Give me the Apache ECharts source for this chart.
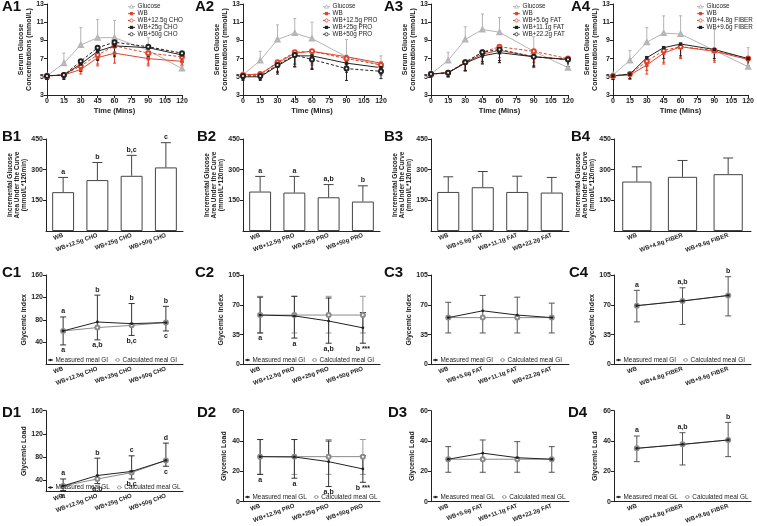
<!DOCTYPE html>
<html><head><meta charset="utf-8">
<script src="https://cdn.jsdelivr.net/npm/echarts@6/dist/echarts.min.js"></script>
<style>html,body{margin:0;padding:0;background:#fff}#c{width:757px;height:526px}</style>
</head><body><div id="c"></div>
<script>
// ---------------- DATA ----------------
const timePoints = [0, 15, 30, 45, 60, 90, 120];
const timeTicks = [0, 15, 30, 45, 60, 75, 90, 105, 120];
const glucoseTicks = [3, 5, 7, 9, 11, 13];
const aucTicks = [150, 300, 450];
const gi1Ticks = [40, 80, 120, 160];
const giTicks = [0, 35, 70, 105];
const gl1Ticks = [40, 80, 120, 160];
const glTicks = [0, 20, 40, 60];

const catCHO = ['WB', 'WB+12.5g CHO', 'WB+25g CHO', 'WB+50g CHO'];
const catPRO = ['WB', 'WB+12.5g PRO', 'WB+25g PRO', 'WB+50g PRO'];
const catFAT = ['WB', 'WB+5.6g FAT', 'WB+11.1g FAT', 'WB+22.2g FAT'];
const catFIB = ['WB', 'WB+4.8g FIBER', 'WB+9.6g FIBER'];

// A1 (CHO)
const a1Glucose = [5.1, 6.5, 8.5, 9.3, 9.3, 7.9, 5.9];
const a1GlucoseErr = [0.2, 1.1, 1.9, 2.0, 1.9, 1.4, 1.0];
const a1WB = [5.1, 5.2, 5.8, 7.1, 7.6, 7.0, 6.7];
const a1WBErr = [0.4, 0.3, 0.5, 0.9, 1.1, 0.8, 0.5];
const a1Cho12 = [5.1, 5.2, 6.2, 7.4, 8.4, 7.6, 7.2];
const a1Cho12Err = [0.4, 0.3, 0.6, 1.0, 1.1, 1.2, 0.9];
const a1Cho25 = [5.1, 5.2, 6.4, 7.8, 8.4, 8.2, 7.4];
const a1Cho25Err = [0.4, 0.5, 0.8, 1.0, 1.2, 1.0, 0.8];
const a1Cho50 = [5.1, 5.2, 6.7, 8.2, 8.8, 8.3, 7.6];
const a1Cho50Err = [0.4, 0.4, 0.9, 1.3, 1.4, 1.1, 0.9];
// A2 (PRO)
const a2Glucose = [5.2, 6.8, 9.1, 9.8, 9.2, 7.2, 6.3];
const a2GlucoseErr = [0.2, 1.0, 1.6, 1.6, 1.8, 1.9, 1.0];
const a2WB = [5.2, 5.3, 6.5, 7.6, 7.8, 7.2, 6.5];
const a2WBErr = [0.4, 0.4, 0.9, 1.2, 1.3, 1.0, 0.7];
const a2Pro12 = [5.2, 5.3, 6.6, 7.7, 7.8, 7.0, 6.3];
const a2Pro12Err = [0.4, 0.4, 1.0, 1.3, 1.5, 1.1, 0.8];
const a2Pro25 = [5.0, 5.0, 6.2, 7.3, 7.3, 6.5, 6.0];
const a2Pro25Err = [0.4, 0.4, 0.9, 1.2, 1.4, 1.0, 0.8];
const a2Pro50 = [5.1, 5.1, 6.3, 7.4, 6.9, 5.9, 5.6];
const a2Pro50Err = [0.4, 0.4, 0.8, 1.3, 1.1, 1.3, 0.8];
// A3 (FAT)
const a3Glucose = [5.3, 6.8, 9.1, 10.2, 9.9, 7.8, 6.0];
const a3GlucoseErr = [0.2, 0.9, 1.4, 1.7, 1.6, 1.6, 1.0];
const a3WB = [5.3, 5.45, 6.55, 7.5, 7.9, 7.2, 6.9];
const a3WBErr = [0.3, 0.5, 0.9, 1.0, 1.3, 1.2, 0.8];
const a3Fat56 = [5.3, 5.45, 6.6, 7.7, 8.3, 7.8, 7.0];
const a3Fat56Err = [0.3, 0.5, 1.0, 1.2, 1.2, 1.2, 0.9];
const a3Fat111 = [5.3, 5.45, 6.5, 7.3, 7.65, 7.2, 6.9];
const a3Fat111Err = [0.3, 0.4, 0.8, 0.9, 1.1, 1.0, 0.8];
const a3Fat222 = [5.3, 5.45, 6.6, 7.7, 8.0, 7.2, 6.9];
const a3Fat222Err = [0.3, 0.4, 0.9, 1.0, 1.2, 1.1, 0.8];
// A4 (FIBER)
const a4Glucose = [5.2, 6.8, 8.8, 9.8, 9.7, 7.9, 6.1];
const a4GlucoseErr = [0.2, 1.1, 1.6, 1.9, 2.0, 2.3, 2.1];
const a4WB = [5.1, 5.2, 6.3, 7.6, 8.3, 7.8, 6.9];
const a4WBErr = [0.4, 0.5, 1.0, 1.2, 1.3, 1.2, 0.7];
const a4Fib48 = [5.1, 5.3, 6.7, 7.9, 8.3, 7.9, 7.0];
const a4Fib48Err = [0.4, 0.5, 1.0, 1.3, 1.2, 1.1, 0.8];
const a4Fib96 = [5.1, 5.3, 7.1, 8.2, 8.6, 8.0, 7.0];
const a4Fib96Err = [0.4, 0.5, 0.9, 1.2, 1.3, 1.0, 0.8];

// B: incremental AUC (mean, SD)
const b1Mean = [190, 249, 270, 311];
const b1Err = [72, 86, 100, 121];
const b1Sig = ['a', 'b', 'b,c', 'c'];
const b2Mean = [193, 188, 165, 144];
const b2Err = [74, 79, 62, 77];
const b2Sig = ['a', 'a', 'a,b', 'b'];
const b3Mean = [191, 214, 191, 188];
const b3Err = [74, 77, 77, 74];
const b4Mean = [242, 265, 278];
const b4Err = [72, 80, 79];

// C: glycemic index
const c1Measured = [60, 76, 73, 75];
const c1Calc = [60, 66, 70, 75];
const c1Lo = [35, 44, 52, 60];
const c1Hi = [85, 124, 109, 104];
const c1SigHi = ['a', 'b', 'b', 'b'];
const c1SigLo = ['a', 'a,b', 'b,c', 'c'];
const c2Measured = [58, 57, 51, 43];
const c2Calc = [58, 58, 58, 58];
const c2Lo = [37, 31, 25, 25];
const c2Hi = [79, 80, 78, 61];
const c2CalcLo = [37, 37, 37, 37];
const c2CalcHi = [80, 80, 80, 80];
const c2SigLo = ['a', 'a', 'a,b', 'b ***'];
const c3Measured = [55, 63, 58, 55];
const c3Calc = [55, 55, 55, 55];
const c3Lo = [37, 37, 37, 37];
const c3Hi = [73, 81, 79, 72];
const c4Measured = [69, 74.5, 81];
const c4Calc = [69, 74.5, 81];
const c4Lo = [50, 47, 57];
const c4Hi = [87, 90, 103];
const c4SigHi = ['a', 'a,b', 'b'];

// D: glycemic load
const d1Measured = [30, 48, 55, 74];
const d1Calc = [30, 42, 53, 74];
const d1Lo = [22, 34, 42, 64];
const d1Hi = [42, 78, 82, 104];
const d1SigHi = ['a', 'b', 'c', 'd'];
const d1SigLo = ['a', 'a,b', 'b,c', 'c'];
const d2Measured = [29.7, 29.5, 26.4, 21.6];
const d2Calc = [29.7, 29.7, 29.7, 29.7];
const d2Lo = [18, 15.5, 10, 12.8];
const d2Hi = [41, 41, 40, 30.4];
const d2CalcLo = [18, 18, 18, 18];
const d2CalcHi = [41, 41, 41, 41];
const d2SigLo = ['a', 'a', 'a,b', 'b ***'];
const d3Measured = [28, 32, 29, 28];
const d3Calc = [28, 28, 28, 28];
const d3Lo = [19.4, 19.4, 19.4, 19.4];
const d3Hi = [36.3, 40.7, 39.6, 36.3];
const d4Measured = [35.2, 37.8, 40.7];
const d4Calc = [35.2, 37.8, 40.7];
const d4Lo = [26.4, 24.2, 29.7];
const d4Hi = [43.3, 45.5, 52.3];
const d4SigHi = ['a', 'a,b', 'b'];

// ---------------- STYLE / BUILD ----------------
const FONT = '"Liberation Sans", Arial, sans-serif';
const INK = '#222';
const RED = '#e0452c';
const GRAY = '#b5b5b5';
const CALC = '#8a8a8a';

const grids = [], xAxes = [], yAxes = [], series = [], graphics = [];
const measureCtx = document.createElement('canvas').getContext('2d');
function textW(t, size) { measureCtx.font = size + 'px "Liberation Sans", Arial, sans-serif'; return measureCtx.measureText(t).width; }

function addGrid(left, top, width, height) {
  grids.push({ left, top, width, height, containLabel: false });
  return grids.length - 1;
}
function valueAxis(g, min, max, ticks, extra) {
  return Object.assign({
    gridIndex: g, type: 'value', min, max,
    axisLine: { show: true, lineStyle: { color: INK, width: 1 } },
    axisTick: { show: true, length: 3, lineStyle: { color: INK }, customValues: ticks },
    axisLabel: { customValues: ticks, fontFamily: FONT, fontSize: 7, fontWeight: 'bold', color: INK, margin: 3 },
    splitLine: { show: false }
  }, extra || {});
}
function catAxis(g, cats) {
  return {
    gridIndex: g, type: 'category', data: cats, boundaryGap: true,
    axisLine: { show: true, lineStyle: { color: INK, width: 1 } },
    axisTick: { show: false },
    axisLabel: { interval: 0, rotate: 20, fontFamily: FONT, fontSize: 6, fontWeight: 'bold', color: INK, margin: 4 }
  };
}
function nameStyle(size) {
  return { fontFamily: FONT, fontSize: size, fontWeight: 'bold', color: INK, lineHeight: size + 0.5 };
}
function errBars(g, rows, color, capW, capAt, z) {
  series.push({
    type: 'custom', xAxisIndex: g, yAxisIndex: g, data: rows, silent: true, z: z || 1,
    encode: { x: 0, y: [1, 2] },
    renderItem: function (params, api) {
      const x = api.value(0), lo = api.value(1), hi = api.value(2);
      const a = api.coord([x, lo]), b = api.coord([x, hi]);
      const st = { stroke: color, lineWidth: 1 };
      const ch = [{ type: 'line', shape: { x1: a[0], y1: a[1], x2: b[0], y2: b[1] }, style: st }];
      if (capAt !== 'lo') ch.push({ type: 'line', shape: { x1: b[0] - capW, y1: b[1], x2: b[0] + capW, y2: b[1] }, style: st });
      if (capAt !== 'hi') ch.push({ type: 'line', shape: { x1: a[0] - capW, y1: a[1], x2: a[0] + capW, y2: a[1] }, style: st });
      return { type: 'group', children: ch };
    }
  });
}
function sigText(g, rows, texts, above) {
  series.push({
    type: 'custom', xAxisIndex: g, yAxisIndex: g, data: rows, silent: true, z: 5,
    encode: { x: 0, y: 1 },
    renderItem: function (params, api) {
      const c = api.coord([api.value(0), api.value(1)]);
      return {
        type: 'text', x: c[0], y: c[1] + (above ? -2 : 2),
        style: { text: texts[params.dataIndex], fontFamily: FONT, fontSize: 7, fontWeight: 'bold', fill: INK,
                 align: 'center', verticalAlign: above ? 'bottom' : 'top' }
      };
    }
  });
}
function panelLetter(text, x, y) {
  graphics.push({ type: 'text', left: x, top: y, style: { text, fontFamily: FONT, fontSize: 15, fontWeight: 'bold', fill: '#111' } });
}
function symbolEl(kind, cx, cy, color) {
  if (kind === 'rect') return { type: 'rect', shape: { x: cx - 1.6, y: cy - 1.6, width: 3.2, height: 3.2 }, style: { fill: color } };
  if (kind === 'emptyCircle') return { type: 'circle', shape: { cx: cx, cy: cy, r: 1.6 }, style: { fill: '#fff', stroke: color, lineWidth: 0.8 } };
  if (kind === 'circle') return { type: 'circle', shape: { cx: cx, cy: cy, r: 1.3 }, style: { fill: color } };
  return { type: 'polygon', shape: { points: [[cx, cy - 1.9], [cx + 1.9, cy + 1.4], [cx - 1.9, cy + 1.4]] }, style: { fill: '#fff', stroke: color, lineWidth: 0.8 } };
}
function legendItem(x, y, it, size, lineW) {
  const lw = lineW || 7;
  graphics.push({ type: 'line', z: 10, shape: { x1: x, y1: y, x2: x + lw, y2: y }, style: { stroke: it.color, lineWidth: 1, lineDash: it.dash ? [2, 1.2] : null } });
  graphics.push(Object.assign(symbolEl(it.symbol, x + lw / 2, y, it.color), { z: 11 }));
  graphics.push({ type: 'text', z: 11, x: x + lw + 2.5, y: y, style: { text: it.name, fontFamily: FONT, fontSize: size, fill: INK, verticalAlign: 'middle' } });
}

// ----- Row A -----
function panelA(left, width, defs, legendLeft) {
  const g = addGrid(left, 4, width, 91);
  xAxes.push(valueAxis(g, 0, 120, timeTicks, { name: 'Time (Mins)', nameLocation: 'middle', nameGap: 12, nameTextStyle: nameStyle(7.5) }));
  yAxes.push(valueAxis(g, 3, 13, glucoseTicks, { name: 'Serum Glucose\nConcentrations (mmol/L)', nameLocation: 'middle', nameGap: 12, nameTextStyle: nameStyle(7) }));
  defs.forEach(function (d, k) {
    const rows = timePoints.map(function (t, i) {
      return d.up ? [t, d.vals[i], d.vals[i] + d.err[i]] : [t, d.vals[i] - d.err[i], d.vals[i]];
    });
    errBars(g, rows, d.color, 1.5, d.up ? 'hi' : 'lo', 1);
    const empty = d.symbol.indexOf('empty') === 0;
    series.push({
      type: 'line', name: d.name, xAxisIndex: g, yAxisIndex: g,
      data: timePoints.map(function (t, i) { return [t, d.vals[i]]; }),
      symbol: d.symbol, symbolSize: empty ? 4 : 3.5, showSymbol: true,
      lineStyle: { color: d.color, width: 1, type: d.dash ? [3, 2] : 'solid' },
      itemStyle: { color: d.color, borderColor: d.color, borderWidth: empty ? 0.8 : 0 }, z: 3
    });
    legendItem(legendLeft, 6.7 + k * 6.9, d, 6.3);
  });
}
function defsA(gl, glErr, wb, wbErr, n1, v1, e1, n2, v2, e2, n3, v3, e3) {
  const list = [
    { name: 'Glucose', vals: gl, err: glErr, up: true, color: GRAY, symbol: 'emptyTriangle', dash: false },
    { name: 'WB', vals: wb, err: wbErr, color: RED, symbol: 'rect', dash: false },
    { name: n1, vals: v1, err: e1, color: RED, symbol: 'emptyCircle', dash: true },
    { name: n2, vals: v2, err: e2, color: INK, symbol: 'rect', dash: false }
  ];
  if (n3) list.push({ name: n3, vals: v3, err: e3, color: INK, symbol: 'emptyCircle', dash: true });
  return list;
}
panelA(47, 135, defsA(a1Glucose, a1GlucoseErr, a1WB, a1WBErr, 'WB+12.5g CHO', a1Cho12, a1Cho12Err, 'WB+25g CHO', a1Cho25, a1Cho25Err, 'WB+50g CHO', a1Cho50, a1Cho50Err), 128);
panelA(243, 138, defsA(a2Glucose, a2GlucoseErr, a2WB, a2WBErr, 'WB+12.5g PRO', a2Pro12, a2Pro12Err, 'WB+25g PRO', a2Pro25, a2Pro25Err, 'WB+50g PRO', a2Pro50, a2Pro50Err), 323);
panelA(431, 137, defsA(a3Glucose, a3GlucoseErr, a3WB, a3WBErr, 'WB+5.6g FAT', a3Fat56, a3Fat56Err, 'WB+11.1g FAT', a3Fat111, a3Fat111Err, 'WB+22.2g FAT', a3Fat222, a3Fat222Err), 513);
panelA(613, 138, defsA(a4Glucose, a4GlucoseErr, a4WB, a4WBErr, 'WB+4.8g FIBER', a4Fib48, a4Fib48Err, 'WB+9.6g FIBER', a4Fib96, a4Fib96Err), 697);

// ----- Row B -----
function panelB(left, width, cats, means, errs, sig) {
  const g = addGrid(left, 139, width, 92);
  xAxes.push(catAxis(g, cats));
  yAxes.push(valueAxis(g, 0, 450, aucTicks, { name: 'Incremental Glucose\nArea Under the Curve\n(mmol/L*120min)', nameLocation: 'middle', nameGap: 16, nameTextStyle: nameStyle(6.5) }));
  series.push({ type: 'bar', xAxisIndex: g, yAxisIndex: g, data: means, barWidth: '64%',
    itemStyle: { color: '#fff', borderColor: '#444', borderWidth: 1 }, z: 2 });
  errBars(g, means.map(function (m, i) { return [i, m, m + errs[i]]; }), '#444', 5, 'hi', 3);
  if (sig) sigText(g, means.map(function (m, i) { return [i, m + errs[i]]; }), sig, true);
}
panelB(46, 137, catCHO, b1Mean, b1Err, b1Sig);
panelB(243, 137, catPRO, b2Mean, b2Err, b2Sig);
panelB(431, 138, catFAT, b3Mean, b3Err, null);
panelB(614, 137, catFIB, b4Mean, b4Err, null);

// ----- Rows C & D -----
function panelG(o) {
  const g = addGrid(o.left, o.top, o.width, o.height);
  xAxes.push(catAxis(g, o.cats));
  yAxes.push(valueAxis(g, o.min, o.max, o.ticks, { name: o.yName, nameLocation: 'middle', nameGap: o.nameGap, nameTextStyle: nameStyle(7) }));
  if (o.cLo) errBars(g, o.cLo.map(function (v, i) { return [i, v, o.cHi[i]]; }), '#9a9a9a', 3, 'both', 1);
  errBars(g, o.mLo.map(function (v, i) { return [i, v, o.mHi[i]]; }), o.errColor || '#333', 3, 'both', 1);
  series.push({ type: 'line', name: o.names[1], xAxisIndex: g, yAxisIndex: g, data: o.calc,
    symbol: 'emptyCircle', symbolSize: 4, lineStyle: { color: CALC, width: 1 }, itemStyle: { color: CALC, borderColor: CALC, borderWidth: 0.8 }, z: 3 });
  series.push({ type: 'line', name: o.names[0], xAxisIndex: g, yAxisIndex: g, data: o.meas,
    symbol: 'circle', symbolSize: 2.8, lineStyle: { color: INK, width: 1 }, itemStyle: { color: INK }, z: 4 });
  if (o.sigHi) sigText(g, o.mHi.map(function (v, i) { return [i, v]; }), o.sigHi, true);
  if (o.sigLo) sigText(g, o.mLo.map(function (v, i) { return [i, v]; }), o.sigLo, false);
  const x0 = o.left + 2, fs = 6.4;
  legendItem(x0, o.legendY, { name: o.names[0], color: INK, symbol: 'circle' }, fs, 5);
  legendItem(x0 + 7.5 + textW(o.names[0], fs) + 7, o.legendY, { name: o.names[1], color: CALC, symbol: 'emptyCircle' }, fs, 5);
}
const GI = ['Measured meal GI', 'Calculated meal GI'];
const GL = ['Measured meal GL', 'Calculated meal GL'];
panelG({ left: 46, top: 275, width: 137, height: 89.5, cats: catCHO, min: 0, max: 160, ticks: gi1Ticks, yName: 'Glycemic Index', nameGap: 17,
  meas: c1Measured, calc: c1Calc, mLo: c1Lo, mHi: c1Hi, sigHi: c1SigHi, sigLo: c1SigLo, names: GI, legendY: 360 });
panelG({ left: 243, top: 275, width: 137, height: 89.5, cats: catPRO, min: 0, max: 105, ticks: giTicks, yName: 'Glycemic Index', nameGap: 15,
  meas: c2Measured, calc: c2Calc, mLo: c2Lo, mHi: c2Hi, cLo: c2CalcLo, cHi: c2CalcHi, sigLo: c2SigLo, names: GI, legendY: 360 });
panelG({ left: 431, top: 275, width: 138, height: 89.5, cats: catFAT, min: 0, max: 105, ticks: giTicks, yName: 'Glycemic Index', nameGap: 15,
  meas: c3Measured, calc: c3Calc, mLo: c3Lo, mHi: c3Hi, names: GI, legendY: 360, errColor: '#555' });
panelG({ left: 614, top: 275, width: 137, height: 89.5, cats: catFIB, min: 0, max: 105, ticks: giTicks, yName: 'Glycemic Index', nameGap: 15,
  meas: c4Measured, calc: c4Calc, mLo: c4Lo, mHi: c4Hi, sigHi: c4SigHi, names: GI, legendY: 360, errColor: '#555' });

panelG({ left: 46, top: 410.7, width: 137, height: 81, cats: catCHO, min: 20, max: 160, ticks: gl1Ticks, yName: 'Glycemic Load', nameGap: 17,
  meas: d1Measured, calc: d1Calc, mLo: d1Lo, mHi: d1Hi, sigHi: d1SigHi, sigLo: d1SigLo, names: GL, legendY: 487.5 });
panelG({ left: 243, top: 410.7, width: 137, height: 91, cats: catPRO, min: 0, max: 60, ticks: glTicks, yName: 'Glycemic Load', nameGap: 15,
  meas: d2Measured, calc: d2Calc, mLo: d2Lo, mHi: d2Hi, cLo: d2CalcLo, cHi: d2CalcHi, sigLo: d2SigLo, names: GL, legendY: 497 });
panelG({ left: 431, top: 410.7, width: 138, height: 91, cats: catFAT, min: 0, max: 60, ticks: glTicks, yName: 'Glycemic Load', nameGap: 15,
  meas: d3Measured, calc: d3Calc, mLo: d3Lo, mHi: d3Hi, names: GL, legendY: 497, errColor: '#555' });
panelG({ left: 614, top: 410.7, width: 137, height: 91, cats: catFIB, min: 0, max: 60, ticks: glTicks, yName: 'Glycemic Load', nameGap: 15,
  meas: d4Measured, calc: d4Calc, mLo: d4Lo, mHi: d4Hi, sigHi: d4SigHi, names: GL, legendY: 497, errColor: '#555' });

// panel letters
panelLetter('A1', 2, -1); panelLetter('A2', 195, -1); panelLetter('A3', 384, -1); panelLetter('A4', 571, -1);
panelLetter('B1', 2, 129); panelLetter('B2', 197, 129); panelLetter('B3', 384, 129); panelLetter('B4', 571, 129);
panelLetter('C1', 2, 265); panelLetter('C2', 195, 265); panelLetter('C3', 384, 265); panelLetter('C4', 569, 265);
panelLetter('D1', 2, 405); panelLetter('D2', 197, 405); panelLetter('D3', 388, 405); panelLetter('D4', 568, 405);

const chart = echarts.init(document.getElementById('c'), null, { renderer: 'canvas' });
chart.setOption({
  animation: false, backgroundColor: '#fff', textStyle: { fontFamily: FONT },
  grid: grids, xAxis: xAxes, yAxis: yAxes, series: series, graphic: graphics
});
</script></body></html>
